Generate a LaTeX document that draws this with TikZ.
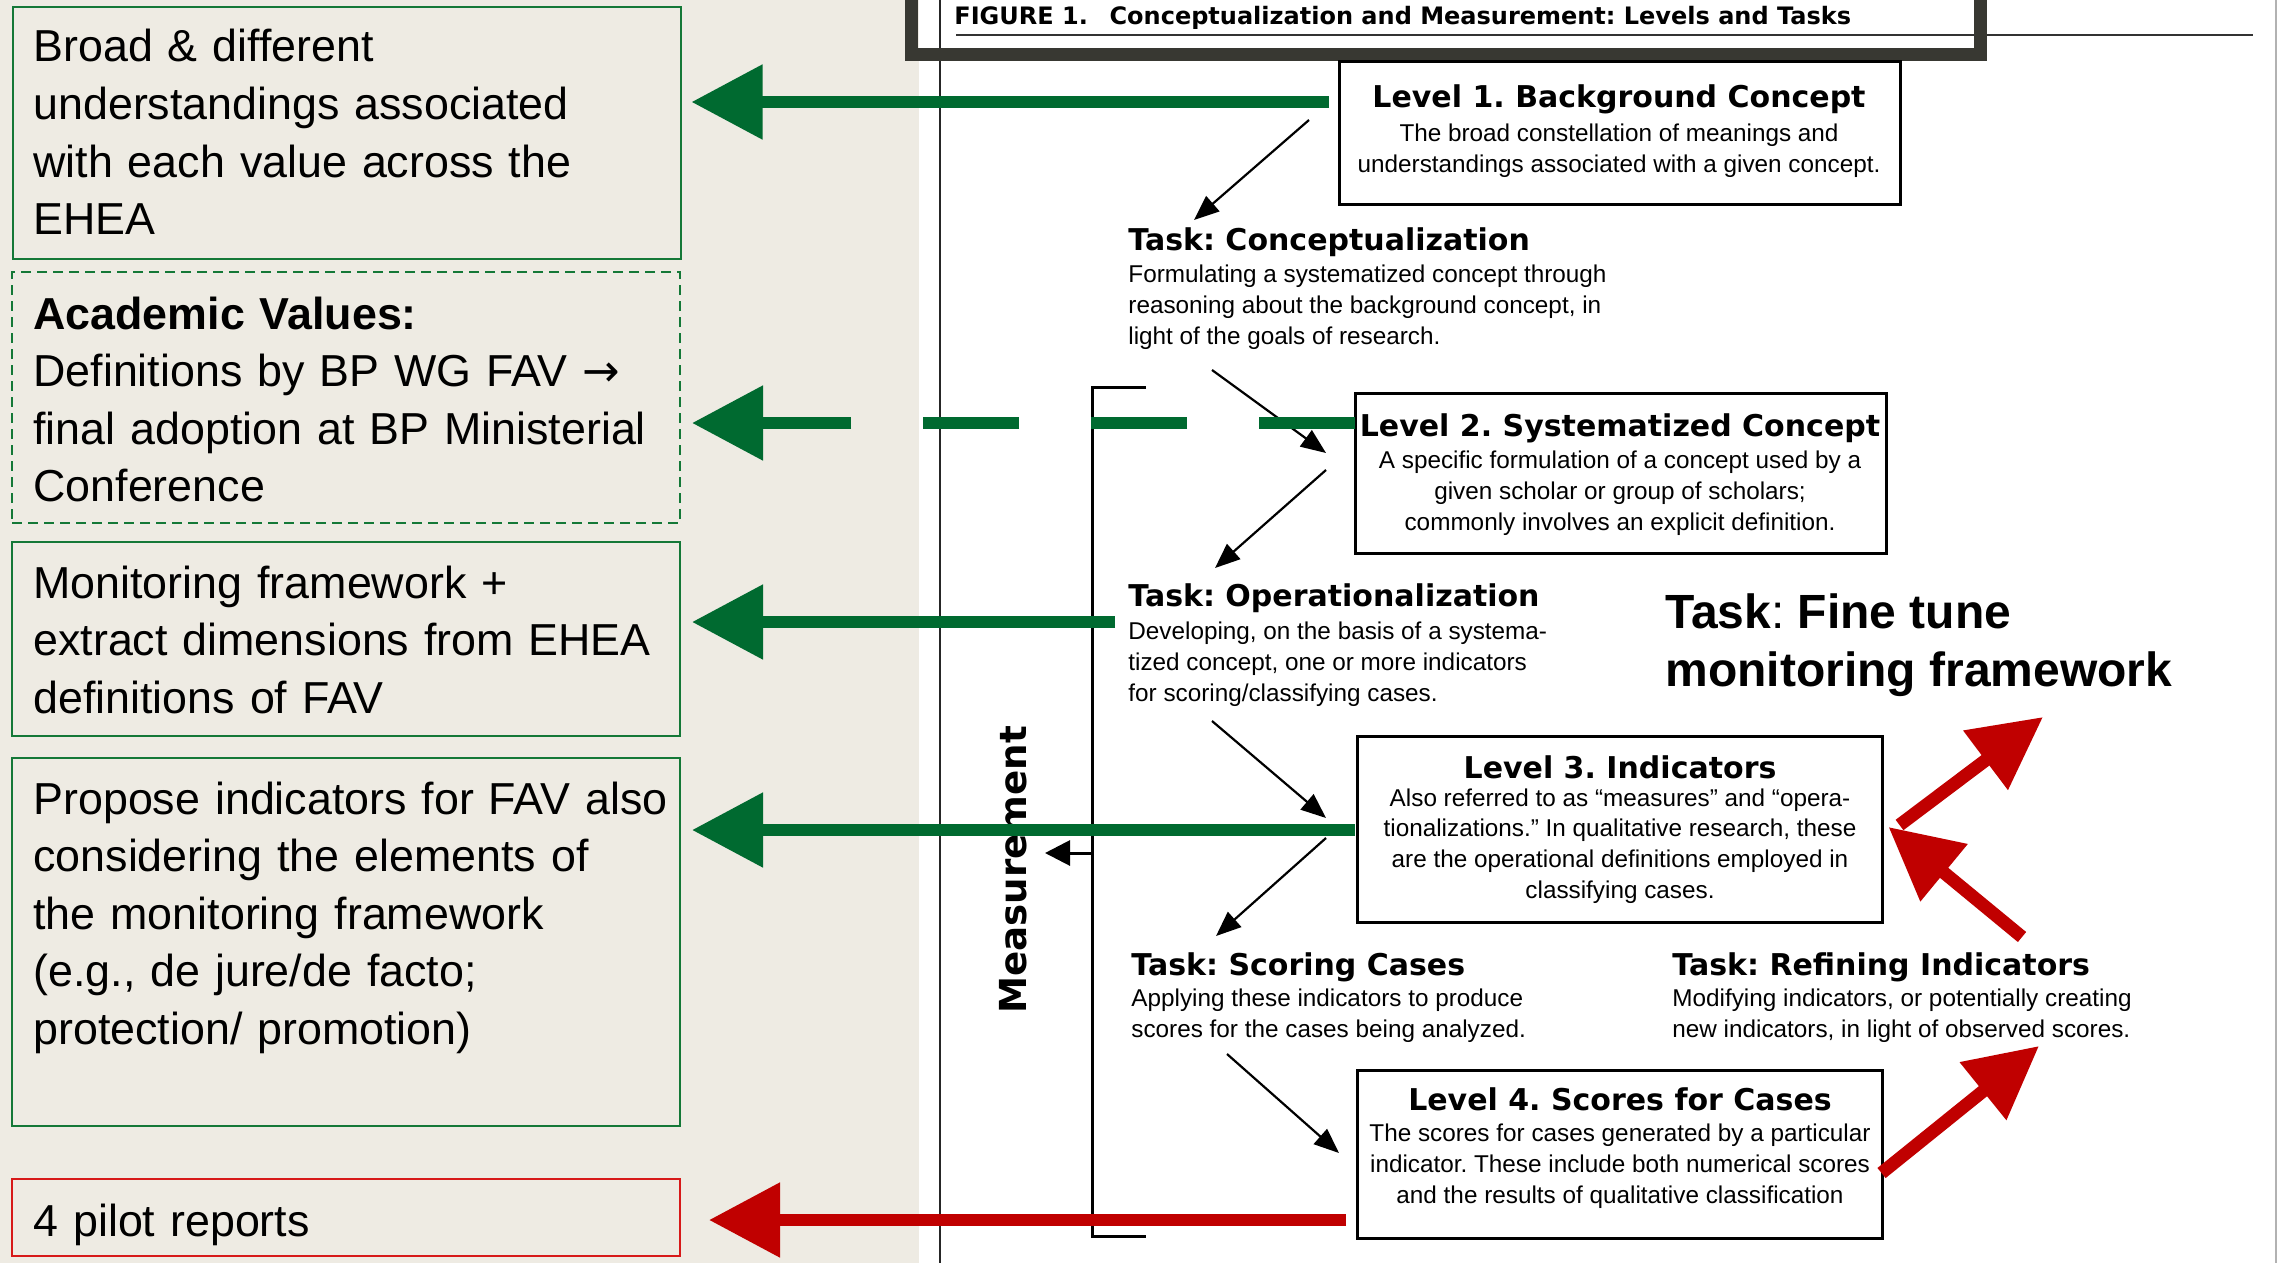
\documentclass[tikz,border=0pt]{standalone}
\usepackage{fontspec}
\setmainfont{Liberation Sans}
\newfontfamily\dvfont{DejaVu Sans}
\usetikzlibrary{arrows.meta,calc}
\definecolor{bgbeige}{RGB}{238,235,227}
\definecolor{darkgreen}{RGB}{0,106,48}
\definecolor{boxgreen}{RGB}{20,120,55}
\definecolor{darkred}{RGB}{192,0,0}
\definecolor{boxred}{RGB}{215,25,25}
\definecolor{framegray}{RGB}{56,56,50}
\newcommand\leftsize{\fontsize{22.4pt}{28.75pt}\selectfont}
\newcommand\bodysize{\fontsize{12.15pt}{15.4pt}\selectfont}
\newcommand\headsize{\dvfont\bfseries\fontsize{15pt}{17pt}\selectfont}
\frenchspacing
\tikzset{
  leftbox/.style={draw=boxgreen, line width=1pt, inner sep=0pt, minimum width=334pt},
  lefttext/.style={anchor=base west, inner sep=0pt, font=\leftsize\frenchspacing, text width=330pt, align=left},
  lvl/.style={draw=black, line width=1.5pt, inner sep=0pt},
  fighead/.style={inner sep=0pt, font=\headsize\frenchspacing},
  figbody/.style={inner sep=0pt, font=\bodysize\frenchspacing},
  blackarrow/.style={draw=black, line width=1.1pt, -{Triangle[length=12.5pt,width=10pt]}},
  greenarrow/.style={draw=darkgreen, line width=6pt, -{Triangle[length=35.5pt,width=36pt]}},
  redarrow/.style={draw=darkred, line width=6pt, -{Triangle[length=35.5pt,width=36pt]}},
  redfat/.style={draw=darkred, line width=6.5pt, -{Triangle[length=36pt,width=35.5pt]}}
}
\begin{document}
\begin{tikzpicture}[x=0.5pt,y=-0.5pt]
\useasboundingbox (0,0) rectangle (2278,1263);
\fill[bgbeige] (0,0) rectangle (919,1263);
\fill[white] (919,0) rectangle (2278,1263);
\draw[black!85, line width=0.7pt] (940,0) -- (940,1263);
\draw[black!30, line width=1pt] (2276,0) -- (2276,1263);
% title
\draw[black!80, line width=1.3pt] (956,35) -- (2253,35);
\draw[framegray, line width=6.5pt] (911.5,-30) rectangle (1980.5,54.5);
\node[anchor=base west, inner sep=0pt, font=\dvfont\bfseries\fontsize{12pt}{15pt}\selectfont\frenchspacing] (figtitle) at (954,25)
  {FIGURE 1.\hspace{0.9em}Conceptualization and Measurement: Levels and Tasks};

% left boxes
\node[leftbox, minimum height=126pt] (B1) at (346.5,133) {};
\node[leftbox, dashed, dash pattern=on 5pt off 3pt, minimum height=125.5pt] (B2) at (346,397.5) {};
\node[leftbox, minimum height=97pt] (B3) at (346,639) {};
\node[leftbox, minimum height=184pt] (B4) at (346,942) {};
\node[leftbox, draw=boxred, minimum height=38.5pt] (B5) at (346,1217.5) {};

\node[lefttext] (T1) at (33,62) {Broad \& different\\ understandings associated\\ with each value across the\\ EHEA};
\node[lefttext] (T2) at (33,329) {\textbf{Academic Values:}\\ Definitions by BP WG FAV {\dvfont →}\\ final adoption at BP Ministerial\\ Conference};
\node[lefttext] (T3) at (33,598) {Monitoring framework +\\ extract dimensions from EHEA\\ definitions of FAV};
\node[lefttext] (T4) at (33,814) {Propose indicators for FAV also\\ considering the elements of\\ the monitoring framework\\ (e.g., de jure/de facto;\\ protection/ promotion)};
\node[lefttext] (T5) at (33,1236) {4 pilot reports};

% level boxes
\node[lvl, minimum width=280.5pt, minimum height=71pt] (L1) at (1619.5,133) {};
\node[lvl, minimum width=265.5pt, minimum height=80pt] (L2) at (1620.5,473) {};
\node[lvl, minimum width=262.5pt, minimum height=93pt] (L3) at (1619.5,829) {};
\node[lvl, minimum width=262.5pt, minimum height=84pt] (L4) at (1619.5,1154) {};

\node[fighead] (L1h) at (1619,99) {Level 1. Background Concept};
\node[figbody, align=center] (L1b) at (1619,151) {The broad constellation of meanings and\\ understandings associated with a given concept.};
\node[fighead] (L2h) at (1620,428) {Level 2. Systematized Concept};
\node[figbody, align=center] (L2b) at (1620,493) {A specific formulation of a concept used by a\\ given scholar or group of scholars;\\ commonly involves an explicit definition.};
\node[fighead] (L3h) at (1620,767) {Level 3. Indicators};
\node[figbody, align=center] (L3b) at (1620,846) {Also referred to as “measures” and “opera-\\ tionalizations.” In qualitative research, these\\ are the operational definitions employed in\\ classifying cases.};
\node[fighead] (L4h) at (1620,1099) {Level 4. Scores for Cases};
\node[figbody, align=center] (L4b) at (1620,1166) {The scores for cases generated by a particular\\ indicator. These include both numerical scores\\ and the results of qualitative classification};

% tasks
\node[fighead, anchor=west] (K1h) at (1128,242) {Task: Conceptualization};
\node[figbody, anchor=west, align=left] (K1b) at (1128,307) {Formulating a systematized concept through\\ reasoning about the background concept, in\\ light of the goals of research.};
\node[fighead, anchor=west] (K2h) at (1128,598) {Task: Operationalization};
\node[figbody, anchor=west, align=left] (K2b) at (1128,664) {Developing, on the basis of a systema-\\ tized concept, one or more indicators\\ for scoring/classifying cases.};
\node[fighead, anchor=west] (K3h) at (1131,967) {Task: Scoring Cases};
\node[figbody, anchor=west, align=left] (K3b) at (1131,1016) {Applying these indicators to produce\\ scores for the cases being analyzed.};
\node[fighead, anchor=west] (K4h) at (1672,967) {Task: Refining Indicators};
\node[figbody, anchor=west, align=left] (K4b) at (1672,1016) {Modifying indicators, or potentially creating\\ new indicators, in light of observed scores.};

\node[inner sep=0pt, anchor=west, align=left, font=\fontsize{24pt}{29pt}\selectfont] (fine) at (1665,645)
  {\textbf{Task}: \textbf{Fine tune}\\ \textbf{monitoring framework}};

\node[inner sep=0pt, rotate=90, font=\dvfont\bfseries\fontsize{18.6pt}{20pt}\selectfont] (meas) at (1013,870) {Measurement};

% measurement bracket
\coordinate (brt) at (1146,387);
\coordinate (brb) at (1146,1236);
\coordinate (brm) at (1092,853);
\coordinate (brtip) at (1045,853);
\draw[black, line width=1.5pt] (brt) -- (1092,387) -- (1092,1236) -- (brb);
\draw[black, line width=1.5pt, -{Triangle[length=12.5pt,width=12.5pt]}] (brm) -- (brtip);

% black arrows
\coordinate (a1s) at (1309,120); \coordinate (a1e) at (1194,220);
\coordinate (a2s) at (1212,370); \coordinate (a2e) at (1326,453);
\coordinate (a3s) at (1326,470); \coordinate (a3e) at (1215,568);
\coordinate (a4s) at (1212,721); \coordinate (a4e) at (1326,818);
\coordinate (a5s) at (1326,838); \coordinate (a5e) at (1216,936);
\coordinate (a6s) at (1227,1054); \coordinate (a6e) at (1339,1153);
\draw[blackarrow] (a1s) -- (a1e);
\draw[blackarrow] (a2s) -- (a2e);
\draw[blackarrow] (a3s) -- (a3e);
\draw[blackarrow] (a4s) -- (a4e);
\draw[blackarrow] (a5s) -- (a5e);
\draw[blackarrow] (a6s) -- (a6e);

% green arrows
\coordinate (g1) at (1329,102);
\coordinate (g2) at (1355,423);
\coordinate (g3) at (1115,622);
\coordinate (g4) at (1355,830);
\coordinate (r1) at (1346,1220);
\draw[greenarrow] (g1) -- ($(B1.east|-g1)+(10,0)$);
\draw[greenarrow, dash pattern=on 48pt off 36pt] (g2) -- ($(B2.east|-g2)+(11,0)$);
\draw[greenarrow] (g3) -- ($(B3.east|-g3)+(11,0)$);
\draw[greenarrow] (g4) -- ($(B4.east|-g4)+(11,0)$);
\draw[redarrow] (r1) -- ($(B5.east|-r1)+(28,0)$);

% red arrows right
\coordinate (ra) at (2043,717);
\coordinate (rbs) at (2022,937);
\coordinate (rc) at (2039,1046);
\draw[redfat] ($(L3.east)+(16,-4)$) -- (ra);
\draw[redfat] (rbs) -- ($(L3.east)+(5,-2)$);
\draw[redfat] ($(L4.east)+(-2,19)$) -- (rc);
\end{tikzpicture}
\end{document}
